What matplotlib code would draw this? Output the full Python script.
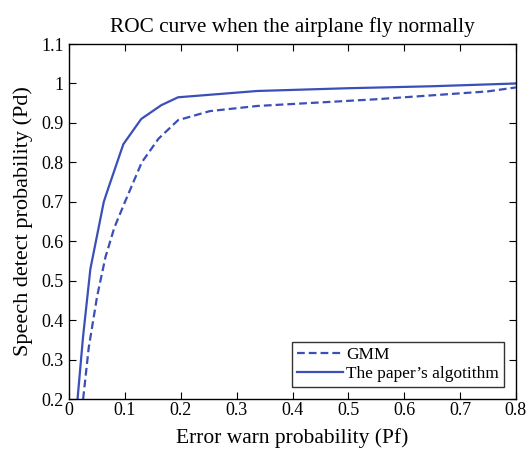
import numpy as np
import matplotlib
matplotlib.use("Agg")
from matplotlib import pyplot as plt

# Error warn probability (Pf) / speech detect probability (Pd)
gmm_pf = [0.025, 0.035, 0.05, 0.065, 0.081, 0.10, 0.13, 0.16, 0.195, 0.252, 0.337, 0.45, 0.55, 0.65, 0.75, 0.8]
gmm_pd = [0.2, 0.33, 0.46, 0.56, 0.635, 0.70, 0.80, 0.86, 0.907, 0.93, 0.943, 0.952, 0.96, 0.97, 0.98, 0.99]

ours_pf = [0.015, 0.025, 0.038, 0.062, 0.069, 0.097, 0.129, 0.165, 0.195, 0.337, 0.5, 0.65, 0.8]
ours_pd = [0.2, 0.36, 0.53, 0.70, 0.73, 0.846, 0.91, 0.945, 0.965, 0.981, 0.988, 0.993, 1.0]

x_ticks = [0, 0.1, 0.2, 0.3, 0.4, 0.5, 0.6, 0.7, 0.8]
x_labels = ["0", "0.1", "0.2", "0.3", "0.4", "0.5", "0.6", "0.7", "0.8"]
y_ticks = [0.2, 0.3, 0.4, 0.5, 0.6, 0.7, 0.8, 0.9, 1.0, 1.1]
y_labels = ["0.2", "0.3", "0.4", "0.5", "0.6", "0.7", "0.8", "0.9", "1", "1.1"]

plt.rcParams['font.family'] = ['Liberation Serif', 'DejaVu Serif']

color = '#3b4fb8'

fig = plt.figure(figsize=(5.28, 4.54), dpi=100)
ax = fig.add_axes([0.131, 0.121, 0.846, 0.782])

# Curves
ax.plot(gmm_pf, gmm_pd, linestyle='--', color=color, linewidth=1.6, dashes=(3.5, 1.8), label='GMM')
ax.plot(ours_pf, ours_pd, linestyle='-', color=color, linewidth=1.6, label='The paper\u2019s algotithm')

# Axes setup
ax.set_xlim(0, 0.8)
ax.set_ylim(0.2, 1.1)
ax.set_xticks(x_ticks)
ax.set_xticklabels(x_labels)
ax.set_yticks(y_ticks)
ax.set_yticklabels(y_labels)
ax.tick_params(direction='in', top=True, right=True, labelsize=13, length=5)
ax.tick_params(axis='x', pad=2)
ax.tick_params(axis='y', pad=4)
for spine in ax.spines.values():
    spine.set_linewidth(1.0)

ax.set_title("ROC curve when the airplane fly normally", fontsize=15.3, pad=9)
ax.set_xlabel("Error warn probability (Pf)", fontsize=15.5, labelpad=7)
ax.set_ylabel("Speech detect probability (Pd)", fontsize=16, labelpad=6)

leg = ax.legend(loc='lower right', fontsize=12.4, frameon=True, fancybox=False,
                edgecolor='black', borderpad=0.3, labelspacing=0.15,
                handlelength=2.7, handletextpad=0.15, borderaxespad=0.7)
leg.get_frame().set_linewidth(1.0)

plt.savefig("out.png", dpi=100)
plt.close()
